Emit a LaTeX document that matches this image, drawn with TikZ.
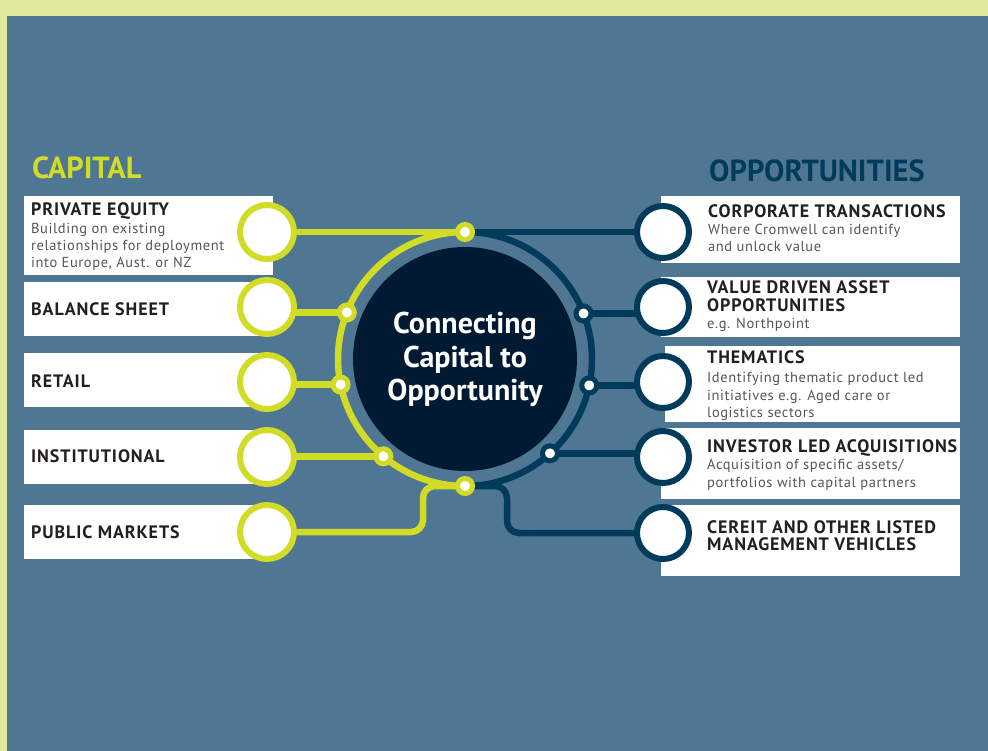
\documentclass[tikz,border=0pt]{standalone}
\usepackage{fontspec}
\setmainfont{PT Sans}
\newfontfamily\titlefont[LetterSpace=5]{PT Sans}
\newfontfamily\copyfont[LetterSpace=4]{PT Sans}
\usetikzlibrary{calc}

\definecolor{band}{HTML}{E1E99E}
\definecolor{field}{HTML}{4F7793}
\definecolor{lime}{HTML}{D2DC26}
\definecolor{navy}{HTML}{013B5C}
\definecolor{core}{HTML}{001A33}
\definecolor{ink}{HTML}{231F20}
\definecolor{soft}{HTML}{555555}

\pgfdeclarelayer{bg}
\pgfdeclarelayer{wires}
\pgfsetlayers{bg,wires,main}

\begin{document}
\begin{tikzpicture}[x=1pt,y=-1pt,
  panel/.style={rectangle,fill=white,draw=none,inner sep=0pt},
  capring/.style={circle,draw=lime,line width=6pt,fill=white,minimum size=54pt,inner sep=0pt},
  oppring/.style={circle,draw=navy,line width=6pt,fill=white,minimum size=52pt,inner sep=0pt},
  limejoint/.style={circle,draw=lime,line width=5pt,fill=white,minimum size=15pt,inner sep=0pt},
  navyjoint/.style={circle,draw=navy,line width=5pt,fill=white,minimum size=15pt,inner sep=0pt},
  limewire/.style={draw=lime,line width=6.5pt},
  navywire/.style={draw=navy,line width=6.5pt},
  ttl/.style={font=\titlefont\fontsize{18}{20}\bfseries,text=ink,anchor=base west,inner sep=0pt},
  bdy/.style={font=\copyfont\fontsize{14.5}{17}\selectfont,text=soft,anchor=base west,inner sep=0pt},
  head/.style={font=\fontsize{30.5}{32}\bfseries,anchor=base west,inner sep=0pt},
  hub/.style={font=\fontsize{30}{33}\bfseries,text=white,anchor=base,inner sep=0pt}]
\useasboundingbox (0,0) rectangle (988,751);

% backdrop
\begin{pgfonlayer}{bg}
  \fill[band] (0,0) rectangle (988,751);
  \fill[field] (7,16) rectangle (988,751);
\end{pgfonlayer}

% white panels
\begin{pgfonlayer}{bg}
  \node[panel,minimum width=249pt,minimum height=79pt] (p-pe) at (148.5,235.5) {};
  \node[panel,minimum width=249pt,minimum height=54pt] (p-bs) at (148.5,309) {};
  \node[panel,minimum width=249pt,minimum height=54pt] (p-rt) at (148.5,380) {};
  \node[panel,minimum width=249pt,minimum height=54pt] (p-in) at (148.5,457) {};
  \node[panel,minimum width=249pt,minimum height=54pt] (p-pm) at (148.5,532) {};
  \node[panel,minimum width=299pt,minimum height=67pt] (p-ct) at (810.5,229.5) {};
  \node[panel,minimum width=299pt,minimum height=60pt] (p-vd) at (810.5,307) {};
  \node[panel,minimum width=295pt,minimum height=76pt] (p-th) at (812.5,384) {};
  \node[panel,minimum width=299pt,minimum height=71pt] (p-il) at (810.5,463.5) {};
  \node[panel,minimum width=299pt,minimum height=71pt] (p-ce) at (810.5,540.5) {};
\end{pgfonlayer}

% hub
\coordinate (ctr) at (465,359);
\node[circle,fill=core,minimum size=224pt,inner sep=0pt] (hubdisc) at (ctr) {};
\node[hub] (hub1) at (465,334) {Connecting};
\node[hub] (hub2) at (465,367) {Capital to};
\node[hub] (hub3) at (465,400) {Opportunity};

% rings at the panels
\node[capring] (c-pe) at (267,232) {};
\node[capring] (c-bs) at (267,307) {};
\node[capring] (c-rt) at (267,382) {};
\node[capring] (c-in) at (267,457) {};
\node[capring] (c-pm) at (267,532) {};
\node[oppring] (c-ct) at (663,232) {};
\node[oppring] (c-vd) at (663,307) {};
\node[oppring] (c-th) at (663,382) {};
\node[oppring] (c-il) at (663,457) {};
\node[oppring] (c-ce) at (663,533) {};

% joints on the loop
\node[limejoint] (d-top) at (465,232) {};
\node[limejoint] (d-bot) at (465,486) {};
\node[limejoint] (d-bs) at ($(ctr)+(-158.5:127)$) {};
\node[limejoint] (d-rt) at ($(ctr)+(168.4:127)$) {};
\node[limejoint] (d-in) at ($(ctr)+(130:127)$) {};
\node[navyjoint] (d-vd) at ($(ctr)+(-21:127)$) {};
\node[navyjoint] (d-th) at ($(ctr)+(12:127)$) {};
\node[navyjoint] (d-il) at ($(ctr)+(48:127)$) {};

% loop and connectors
\begin{pgfonlayer}{wires}
  \draw[limewire] (465,486) arc[start angle=90,end angle=270,radius=127];
  \draw[navywire] (465,486) arc[start angle=90,end angle=-90,radius=127];
  \draw[limewire] (d-top.center) -- (c-pe.center);
  \draw[limewire] (d-bs.center) -- (d-bs.center -| c-bs.center);
  \draw[limewire] (d-rt.center) -- (d-rt.center -| c-rt.center);
  \draw[limewire] (d-in.center) -- (d-in.center -| c-in.center);
  \draw[limewire,rounded corners=12pt] (d-bot.center) -- (423,486) -- (423,532) -- (c-pm.center);
  \draw[navywire] (d-top.center) -- (c-ct.center);
  \draw[navywire] (d-vd.center) -- (d-vd.center -| c-vd.center);
  \draw[navywire] (d-th.center) -- (d-th.center -| c-th.center);
  \draw[navywire] (d-il.center) -- (d-il.center -| c-il.center);
  \draw[navywire,rounded corners=12pt] (d-bot.center) -- (507,486) -- (507,533) -- (c-ce.center);
\end{pgfonlayer}

% headings
\node[head,text=lime] (h-cap) at (32,179) {CAPITAL};
\node[head,text=navy] (h-opp) at (709,182) {OPPORTUNITIES};

% capital side
\node[ttl] (t-pe) at (31,216) {PRIVATE EQUITY};
\node[bdy] (t-pe1) at (31,234) {Building on existing};
\node[bdy] (t-pe2) at (31,251) {relationships for deployment};
\node[bdy] (t-pe3) at (31,268) {into Europe, Aust. or NZ};
\node[ttl] (t-bs) at (31,316) {BALANCE SHEET};
\node[ttl] (t-rt) at (31,387) {RETAIL};
\node[ttl] (t-in) at (31,462) {INSTITUTIONAL};
\node[ttl] (t-pm) at (31,538) {PUBLIC MARKETS};

% opportunity side
\node[ttl] (t-ct) at (708,218) {CORPORATE TRANSACTIONS};
\node[bdy] (t-ct1) at (708,235) {Where Cromwell can identify};
\node[bdy] (t-ct2) at (708,252) {and unlock value};
\node[ttl] (t-vd) at (707,294) {VALUE DRIVEN ASSET};
\node[ttl] (t-vdb) at (707,312) {OPPORTUNITIES};
\node[bdy] (t-vd1) at (707,329) {e.g. Northpoint};
\node[ttl] (t-th) at (707,363) {THEMATICS};
\node[bdy] (t-th1) at (707,382) {Identifying thematic product led};
\node[bdy] (t-th2) at (707,400) {initiatives e.g. Aged care or};
\node[bdy] (t-th3) at (707,417) {logistics sectors};
\node[ttl] (t-il) at (707,452) {INVESTOR LED ACQUISITIONS};
\node[bdy] (t-il1) at (707,469) {Acquisition of specific assets/};
\node[bdy] (t-il2) at (707,487) {portfolios with capital partners};
\node[ttl] (t-ce) at (707,533) {CEREIT AND OTHER LISTED};
\node[ttl] (t-ceb) at (707,550) {MANAGEMENT VEHICLES};
\end{tikzpicture}
\end{document}
